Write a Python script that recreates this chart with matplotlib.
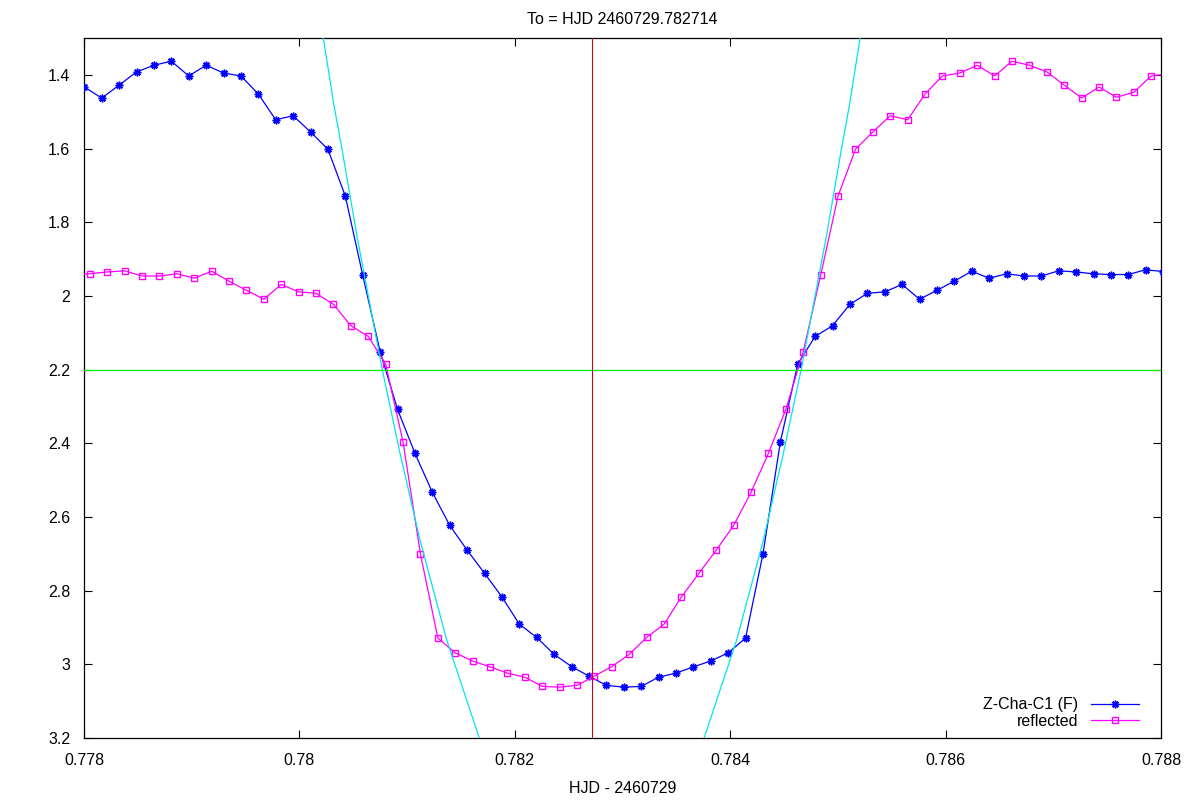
import matplotlib
matplotlib.use("Agg")
import matplotlib.pyplot as plt
from matplotlib.ticker import FixedLocator, FuncFormatter
import numpy as np

plt.rcParams['font.family'] = ['Liberation Sans', 'DejaVu Sans']

# ---------------- data ----------------
T0 = 0.782714          # HJD - 2460729
level = 2.2            # horizontal reference magnitude

time = [0.7773568, 0.7775183, 0.7776799, 0.7778414, 0.7780030, 0.7781646,
        0.7783261, 0.7784877, 0.7786492, 0.7788108, 0.7789724, 0.7791339,
        0.7792955, 0.7794570, 0.7796186, 0.7797802, 0.7799417, 0.7801033,
        0.7802648, 0.7804264, 0.7805880, 0.7807495, 0.7809111, 0.7810726,
        0.7812342, 0.7813958, 0.7815573, 0.7817189, 0.7818804, 0.7820420,
        0.7822036, 0.7823651, 0.7825267, 0.7826882, 0.7828498, 0.7830114,
        0.7831729, 0.7833345, 0.7834960, 0.7836576, 0.7838192, 0.7839807,
        0.7841423, 0.7843038, 0.7844654, 0.7846270, 0.7847885, 0.7849501,
        0.7851116, 0.7852732, 0.7854348, 0.7855963, 0.7857579, 0.7859194,
        0.7860810, 0.7862426, 0.7864041, 0.7865657, 0.7867272, 0.7868888,
        0.7870504, 0.7872119, 0.7873735, 0.7875350, 0.7876966, 0.7878582,
        0.7880197]

mag = [1.397, 1.403, 1.447, 1.461, 1.433, 1.463, 1.428, 1.392, 1.374, 1.363,
       1.403, 1.374, 1.395, 1.403, 1.452, 1.522, 1.511, 1.555, 1.602, 1.729,
       1.944, 2.151, 2.308, 2.427, 2.533, 2.623, 2.690, 2.753, 2.817, 2.891,
       2.927, 2.973, 3.006, 3.032, 3.057, 3.062, 3.060, 3.035, 3.024, 3.007,
       2.991, 2.969, 2.929, 2.701, 2.397, 2.185, 2.110, 2.081, 2.023, 1.993,
       1.989, 1.969, 2.009, 1.985, 1.960, 1.933, 1.952, 1.940, 1.946, 1.946,
       1.932, 1.935, 1.940, 1.942, 1.942, 1.929, 1.934]

# ingress branch of the fitted curve (cyan), egress is its mirror about T0
fit_mag = [1.30, 1.481, 1.616, 1.843, 2.201, 2.427, 2.663, 2.934, 3.206]
fit_time = [0.780222, 0.780320, 0.780404, 0.780538, 0.780770, 0.780934,
            0.781120, 0.781368, 0.781677]

title = "To = HJD 2460729.782714"
xlabel = "HJD - 2460729"
series_labels = ["Z-Cha-C1 (F)", "reflected"]
xticks = [0.778, 0.780, 0.782, 0.784, 0.786, 0.788]
yticks = [1.4, 1.6, 1.8, 2.0, 2.2, 2.4, 2.6, 2.8, 3.0, 3.2]

# ---------------- plot ----------------
t = np.array(time)
m = np.array(mag)
t_ref = 2 * T0 - t
ft = np.array(fit_time)
fm = np.array(fit_mag)

fig = plt.figure(figsize=(12, 8), dpi=100)
ax = fig.add_axes([0.07, 0.0775, 0.8975, 0.875])

lw = 0.9
ax.plot(t, m, color='#0000ff', lw=lw, marker=(8, 2, 0), ms=5.5, mew=1.1,
        label=series_labels[0], zorder=3)
ax.plot(t_ref, m, color='#ff00ff', lw=lw, marker='s', ms=4.4, mfc='none',
        mew=1.0, label=series_labels[1], zorder=3)
ax.plot(ft, fm, color='#00e5ee', lw=lw, zorder=4)
ax.plot(2 * T0 - ft, fm, color='#00e5ee', lw=lw, zorder=4)
ax.axhline(level, color='#00ee00', lw=lw, zorder=5)
ax.axvline(T0, color='#d00000', lw=0.75, zorder=5)

ax.set_xlim(0.778, 0.788)
ax.set_ylim(3.2, 1.3)
ax.xaxis.set_major_locator(FixedLocator(xticks))
ax.yaxis.set_major_locator(FixedLocator(yticks))
fmt = FuncFormatter(lambda v, p: "%g" % round(v, 6))
ax.xaxis.set_major_formatter(fmt)
ax.yaxis.set_major_formatter(fmt)
ax.tick_params(direction='in', length=6, width=0.8, top=True, right=True,
               labelsize=11.5, color='black')
ax.tick_params(axis='x', pad=11)
ax.tick_params(axis='y', pad=10)
for s in ax.spines.values():
    s.set_linewidth(0.9)

ax.set_title(title, fontsize=11.5, pad=10)
ax.set_xlabel(xlabel, fontsize=11.5, labelpad=9)

leg = ax.legend(loc='lower right', bbox_to_anchor=(0.9944, -0.01),
                frameon=False, markerfirst=False,
                fontsize=11.5, handlelength=3.0, handletextpad=0.8,
                labelspacing=0.1, borderaxespad=0.6)

fig.savefig("out.png", dpi=100)
